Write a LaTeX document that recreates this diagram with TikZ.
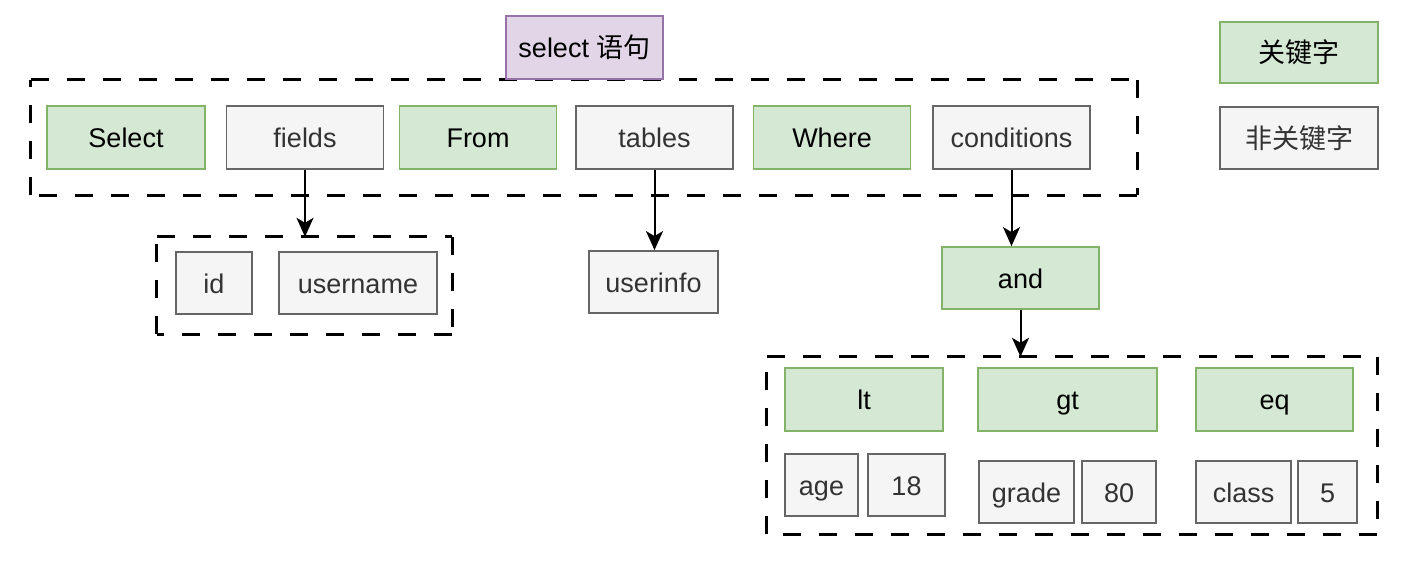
\documentclass[tikz,border=0pt]{standalone}
\usepackage{fontspec}
\setmainfont{Liberation Sans}
\newfontfamily\cjk{Noto Sans CJK SC}
\usetikzlibrary{arrows.meta}
\definecolor{kwfill}{HTML}{D5E8D4}
\definecolor{kwline}{HTML}{82B366}
\definecolor{nkfill}{HTML}{F5F5F5}
\definecolor{nkline}{HTML}{666666}
\definecolor{nktext}{HTML}{333333}
\definecolor{stfill}{HTML}{E1D5E7}
\definecolor{stline}{HTML}{9673A6}
\tikzset{
  base/.style={rectangle, line width=1.8pt, inner sep=0pt, font=\fontsize{27pt}{32pt}\selectfont, text height=20pt, text depth=0pt, align=center},
  kw/.style={base, draw=kwline, fill=kwfill, text=black},
  nk/.style={base, draw=nkline, fill=nkfill, text=nktext},
  st/.style={base, draw=stline, fill=stfill, text=black},
  grp/.style={rectangle, inner sep=0pt, draw=none},
  dsh/.style={line width=2.7pt, dash pattern=on 18pt off 18pt, black},
  arr/.style={line width=2pt, black, -{Stealth[length=19pt,width=17pt,inset=5pt]}},
  wh/.style args={#1x#2}{minimum width=#1pt, minimum height=#2pt}
}
\newcommand\mydashedgroup[1]{%
  \draw[dsh] (#1.north west) -- (#1.north east);
  \draw[dsh] (#1.north east) -- (#1.south east);
  \draw[dsh] (#1.south east) -- (#1.south west);
  \draw[dsh] (#1.south west) -- (#1.north west);}
\begin{document}
\begin{tikzpicture}[x=1pt,y=-1pt]
\useasboundingbox (0,0) rectangle (1402,560);
% groups
\node[grp, wh=1106x115] (g1) at (584,137.5) {};
\node[grp, wh=295x97] (g2) at (304.5,285.5) {};
\node[grp, wh=610x177] (g3) at (1072,445.5) {};
\mydashedgroup{g1}
\mydashedgroup{g2}
\mydashedgroup{g3}
% statement
\node[st, wh=157x63] (stmt) at (584.5,47.5) {select {\cjk 语句}};
% top row
\node[kw, wh=158x63] (select) at (126,137.5) {Select};
\node[nk, wh=157x63] (fields) at (305,137.5) {fields};
\node[kw, wh=157x63] (from) at (478,137.5) {From};
\node[nk, wh=157x63] (tables) at (654.5,137.5) {tables};
\node[kw, wh=157x63] (where) at (832,137.5) {Where};
\node[nk, wh=157x63] (conditions) at (1011.5,137.5) {conditions};
% legend
\node[kw, wh=158x61] (legkw) at (1299,52.5) {\cjk 关键字};
\node[nk, wh=158x62] (legnk) at (1299,138) {\cjk 非关键字};
% second row
\node[nk, wh=76x62] (id) at (214,283) {id};
\node[nk, wh=158x62] (username) at (358,283) {username};
\node[nk, wh=129x62] (userinfo) at (653.5,282) {userinfo};
\node[kw, wh=157x62] (and) at (1020.5,278) {and};
% conditions
\node[kw, wh=158x63] (lt) at (864,399.5) {lt};
\node[kw, wh=179x63] (gt) at (1067.5,399.5) {gt};
\node[kw, wh=157x63] (eq) at (1274.5,399.5) {eq};
\node[nk, wh=73x62] (age) at (821.5,485) {age};
\node[nk, wh=77x62] (v18) at (906.5,485) {18};
\node[nk, wh=95x62] (grade) at (1026.5,492) {grade};
\node[nk, wh=74x62] (v80) at (1119,492) {80};
\node[nk, wh=95x62] (class) at (1243.5,492) {class};
\node[nk, wh=59x62] (v5) at (1327.5,492) {5};
% arrows
\draw[arr] (fields.south) -- (fields.south |- g2.north);
\draw[arr] (tables.south) -- (tables.south |- userinfo.north);
\draw[arr] (conditions.south) -- (conditions.south |- and.north);
\draw[arr] (and.south) -- (and.south |- g3.north);
\end{tikzpicture}
\end{document}
